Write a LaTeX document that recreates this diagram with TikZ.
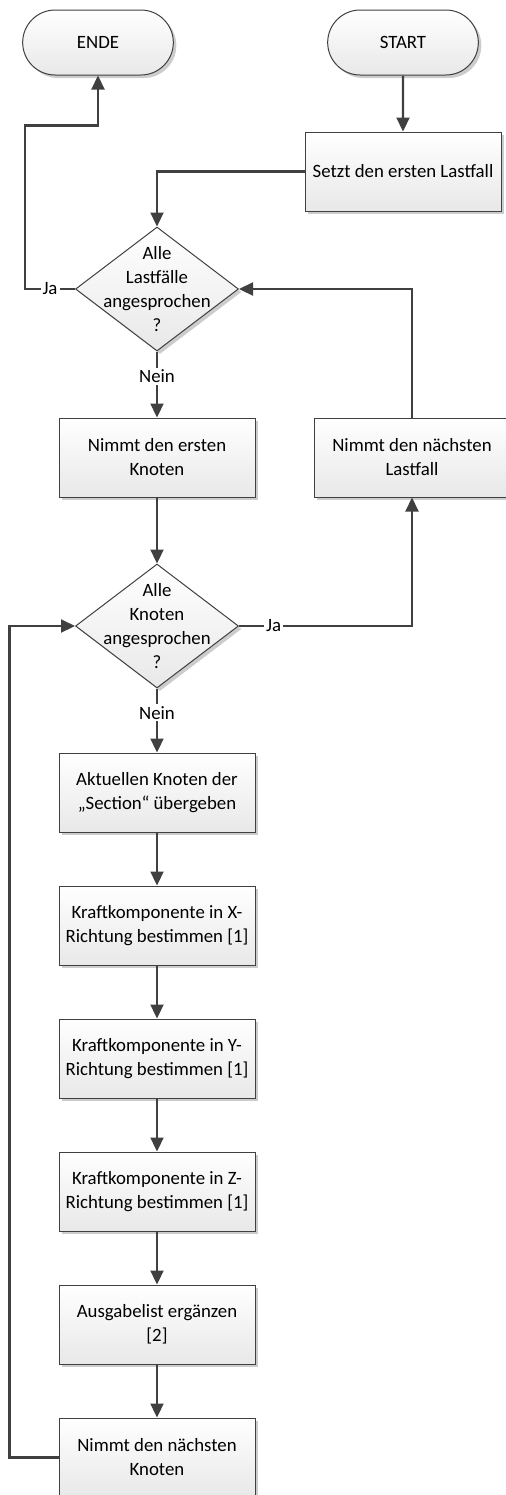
\documentclass[tikz,border=0pt]{standalone}
\usepackage{fontspec}
\setmainfont{Carlito}
\usetikzlibrary{positioning,shapes.geometric,shapes.misc,shadows,arrows.meta}

\definecolor{linie}{HTML}{404040}

\begin{document}
\begin{tikzpicture}[x=0.5pt,y=-0.5pt,
		font=\fontsize{9.4}{12}\selectfont,
		base/.style={draw=linie,line width=0.5pt,top color=white,bottom color=black!9,
			drop shadow={shadow xshift=1.5pt,shadow yshift=-1.5pt,opacity=0.2,fill=black},align=center},
		term/.style={base,rounded rectangle,minimum width=82pt,minimum height=32.5pt},
		process/.style={base,rectangle,minimum width=98pt,minimum height=39.5pt,inner sep=2pt},
		decision/.style={base,diamond,minimum width=81.5pt,minimum height=62pt,inner sep=0pt},
		arrow/.style={draw=linie,line width=1.1pt,-{Triangle[length=7pt,width=6.5pt]}},
		answer/.style={fill=white,inner sep=1pt}]
		\useasboundingbox (0,0) rectangle (505,1495);

		\node[term]											(ende)	at (98,42.5)	{ENDE};
		\node[term]											(start)	at (403,42.5)	{START};
		\node[process,below=28pt of start]					(setzt)	{Setzt den ersten Lastfall};
		\node[decision,label={[align=center]center:Alle\\Lastfälle\\angesprochen\\?}]
															(alle1)	at (157,289)	{};
		\node[process,below=33pt of alle1]					(erst)	{Nimmt den ersten\\Knoten};
		\node[process,right=29pt of erst]					(lnext)	{Nimmt den nächsten\\Lastfall};
		\node[decision,below=33pt of erst,label={[align=center]center:Alle\\Knoten\\angesprochen\\?}]
															(alle2)	{};
		\node[process,below=32pt of alle2]					(akt)	{Aktuellen Knoten der\\„Section“ übergeben};
		\node[process,node distance=26.5pt,below=of akt]	(kx)	{Kraftkomponente in X-\\Richtung bestimmen [1]};
		\node[process,node distance=26.5pt,below=of kx]		(ky)	{Kraftkomponente in Y-\\Richtung bestimmen [1]};
		\node[process,node distance=26.5pt,below=of ky]		(kz)	{Kraftkomponente in Z-\\Richtung bestimmen [1]};
		\node[process,node distance=26.5pt,below=of kz]		(ausg)	{Ausgabelist ergänzen\\{}[2]};
		\node[process,node distance=26.5pt,below=of ausg]	(knext)	{Nimmt den nächsten\\Knoten};

		% Lastfall-Schleife
		\draw[arrow] (start) -- (setzt);
		\draw[arrow] (setzt.west) -| (alle1.north);
		\draw[arrow] (alle1.west) -- node[answer] {Ja} ++(-50,0) |- ([yshift=-25pt]ende.south) -- (ende.south);
		\draw[arrow] (alle1.south) -- node[answer,pos=0.38] {Nein} (erst.north);
		\draw[arrow] (lnext.north) |- (alle1.east);

		% Knoten-Schleife
		\draw[arrow] (erst) -- (alle2);
		\draw[arrow] (alle2.east) -| node[answer,pos=0.1] {Ja} (lnext.south);
		\draw[arrow] (alle2.south) -- node[answer,pos=0.38] {Nein} (akt.north);
		\draw[arrow] (akt) -- (kx);
		\draw[arrow] (kx) -- (ky);
		\draw[arrow] (ky) -- (kz);
		\draw[arrow] (kz) -- (ausg);
		\draw[arrow] (ausg) -- (knext);
		\draw[arrow] (knext.west) -- ++(-49,0) |- (alle2.west);
	\end{tikzpicture}
\end{document}
